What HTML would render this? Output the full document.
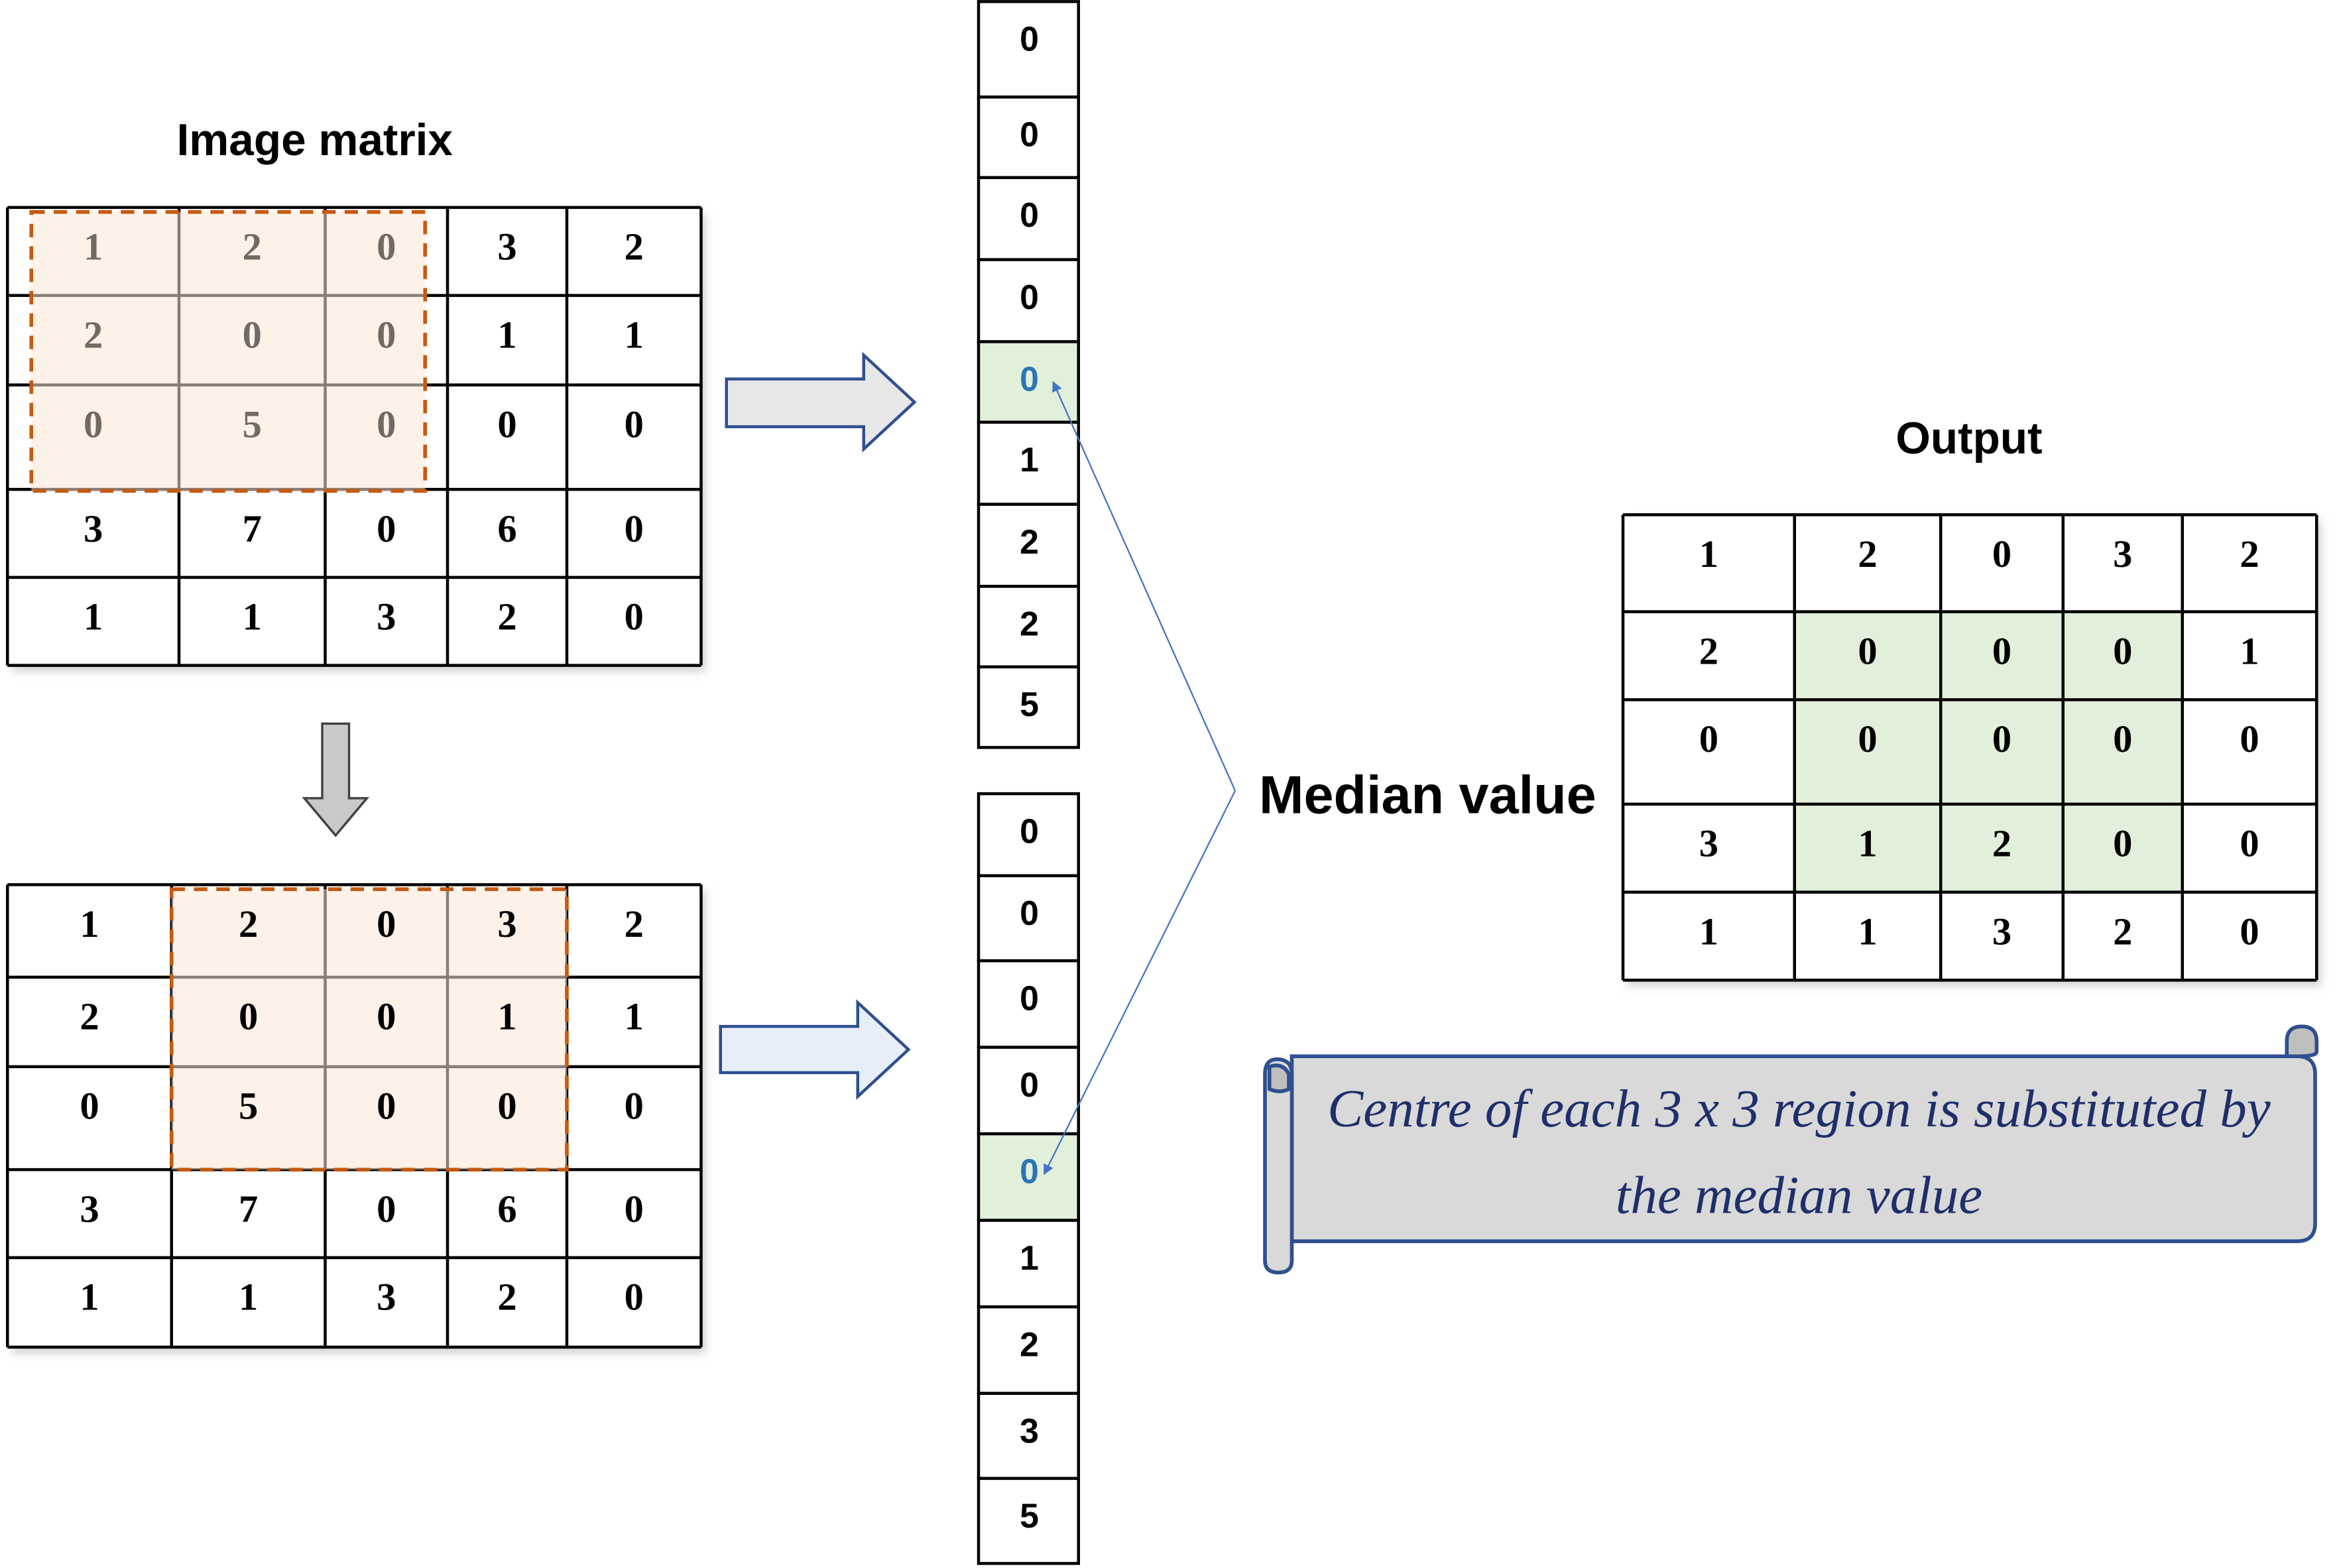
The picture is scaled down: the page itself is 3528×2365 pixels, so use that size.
<!DOCTYPE html>
<html><head><meta charset="utf-8"><style>
html,body{margin:0;padding:0;background:#fff;}
svg{display:block;}
</style></head><body>
<svg id="svg" xmlns="http://www.w3.org/2000/svg" width="3528" height="2365" viewBox="0 0 1568 1051">
<defs>
<marker id="ah" viewBox="0 0 10 10" refX="9" refY="5" markerWidth="7" markerHeight="7" orient="auto"><path d="M0,0L10,5L0,10z" fill="#4472c4"/></marker>
<filter id="sh" x="-5%" y="-5%" width="115%" height="115%"><feDropShadow dx="3" dy="4" stdDeviation="3" flood-color="#000" flood-opacity="0.18"/></filter>
</defs>
<text x="211" y="104" text-anchor="middle" font-family="Liberation Sans, sans-serif" font-weight="bold" font-size="30">Image matrix</text>
<text x="1320" y="304" text-anchor="middle" font-family="Liberation Sans, sans-serif" font-weight="bold" font-size="30">Output</text>
<text x="844" y="545" font-family="Liberation Sans, sans-serif" font-weight="bold" font-size="36">Median value</text>
<g id="grids"></g>
<path d="M216,485H234V535H246L225,560L204,535H216Z" fill="#c9c9c9" stroke="#404040" stroke-width="1.5"/>
<path d="M487,254H579V238L613,269.5L579,301V286H487Z" fill="#e7e7e7" stroke="#2f4f8f" stroke-width="2"/>
<path d="M483,688H575V672L609,703.5L575,735V719H483Z" fill="#e8eef8" stroke="#2f4f8f" stroke-width="2"/>
<line x1="828" y1="530" x2="706" y2="256" stroke="#4472c4" stroke-width="1" marker-end="url(#ah)"/>
<line x1="828" y1="530" x2="700" y2="787" stroke="#4472c4" stroke-width="1" marker-end="url(#ah)"/>
<g stroke="#2f4f8f" stroke-width="2.5" fill="#d9d9d9">
<path d="M866,708H1540Q1552,708 1552,720V820Q1552,832 1540,832H866Z"/>
<path d="M1533,708V698Q1533,688 1543,688Q1553,688 1553,698V705Q1553,708 1540,708Z" fill="#bfbfbf"/>
<path d="M856,710Q866,710 866,720V845Q866,853 857,853Q848,853 848,845V720Q848,710 856,710Z"/>
<path d="M851,715Q860,712 864,720V730Q858,733 851,730Z" fill="#bfbfbf"/>
</g>
<text x="1206" y="755" text-anchor="middle" font-family="Liberation Serif, serif" font-style="italic" font-size="36" fill="#1f2f6b">Centre of each 3 x 3 region is substituted by</text>
<text x="1206" y="813" text-anchor="middle" font-family="Liberation Serif, serif" font-style="italic" font-size="36" fill="#1f2f6b">the median value</text>
</svg>
<script>
const NS='http://www.w3.org/2000/svg';
const grid1=[[1,2,0,3,2],[2,0,0,1,1],[0,5,0,0,0],[3,7,0,6,0],[1,1,3,2,0]];
const grid2=[[1,2,0,3,2],[2,0,0,1,1],[0,5,0,0,0],[3,7,0,6,0],[1,1,3,2,0]];
const outGrid=[[1,2,0,3,2],[2,0,0,0,1],[0,0,0,0,0],[3,1,2,0,0],[1,1,3,2,0]];
const sorted1=[0,0,0,0,0,1,2,2,5];
const sorted2=[0,0,0,0,0,1,2,3,5];
const root=document.getElementById('grids');
function mk(tag){return document.createElementNS(NS,tag);}
function drawGrid(name,vals,xs,ys,win,winFill,greyText,greenWin){
  const g=mk('g');
  
  
  root.appendChild(g);
  const bg=mk('rect');
  
  
  bg.setAttribute('x',xs[0]);bg.setAttribute('y',ys[0]);
  bg.setAttribute('width',xs[xs.length-1]-xs[0]);bg.setAttribute('height',ys[ys.length-1]-ys[0]);
  bg.setAttribute('fill','#fff');bg.setAttribute('filter','url(#sh)');
  g.appendChild(bg);
  if(greenWin){
    const r=mk('rect');
    
    
    r.setAttribute('x',xs[greenWin[0]]);r.setAttribute('y',ys[greenWin[1]]);
    r.setAttribute('width',xs[greenWin[0]+3]-xs[greenWin[0]]);r.setAttribute('height',ys[greenWin[1]+3]-ys[greenWin[1]]);
    r.setAttribute('fill','#e2efda');
    g.appendChild(r);
  }
  for(let i=0;i<xs.length;i++){const l=mk('line');
    
    
    l.setAttribute('x1',xs[i]);l.setAttribute('x2',xs[i]);l.setAttribute('y1',ys[0]);l.setAttribute('y2',ys[ys.length-1]);
    l.setAttribute('stroke','#000');l.setAttribute('stroke-width','2');g.appendChild(l);}
  for(let j=0;j<ys.length;j++){const l=mk('line');
    
    
    l.setAttribute('y1',ys[j]);l.setAttribute('y2',ys[j]);l.setAttribute('x1',xs[0]);l.setAttribute('x2',xs[xs.length-1]);
    l.setAttribute('stroke','#000');l.setAttribute('stroke-width','2');g.appendChild(l);}
  if(win){
    const r=mk('rect');
    
    
    r.setAttribute('x',win[0]);r.setAttribute('y',win[1]);r.setAttribute('width',win[2]-win[0]);r.setAttribute('height',win[3]-win[1]);
    r.setAttribute('fill',winFill);r.setAttribute('fill-opacity','0.55');
    r.setAttribute('stroke','#c55a11');r.setAttribute('stroke-width','2.5');r.setAttribute('stroke-dasharray','9,6');
    g.appendChild(r);
  }
  for(let r=0;r<vals.length;r++)for(let c=0;c<vals[r].length;c++){
    const t=mk('text');
    
    
    const x=(xs[c]+xs[c+1])/2, y=(ys[r]+ys[r+1])/2;
    t.setAttribute('x',x);t.setAttribute('y',ys[r]+35);
    t.setAttribute('text-anchor','middle');
    t.setAttribute('font-family','Liberation Serif, serif');
    t.setAttribute('font-weight','bold');t.setAttribute('font-size','26');
    let inWin=greyText&&win&&x>win[0]&&x<win[2]&&y>win[1]&&y<win[3];
    t.setAttribute('fill',inWin?'#6f6a66':'#000');
    t.textContent=vals[r][c];
    g.appendChild(t);
  }
}
drawGrid('input-grid-step-1',grid1,[5,120,218,300,380,470],[139,198,258,328,387,446],[21,142,285,329],'#fbe5d6',true);
drawGrid('input-grid-step-2',grid2,[5,115,218,300,380,470],[593,655,715,784,843,903],[115,596,380,784],'#fbe5d6',false);
drawGrid('output-grid',outGrid,[1088,1203,1301,1383,1463,1553],[345,410,469,539,598,657],null,null,false,[1,1]);
function drawCol(name,vals,ys,hi){
  const g=mk('g');
  
  
  root.appendChild(g);
  for(let i=0;i<vals.length;i++){
    const r=mk('rect');
    
    
    r.setAttribute('x',656);r.setAttribute('y',ys[i]);r.setAttribute('width',67);r.setAttribute('height',ys[i+1]-ys[i]);
    r.setAttribute('fill',i===hi?'#e2efda':'#fff');r.setAttribute('stroke','#000');r.setAttribute('stroke-width','2');
    g.appendChild(r);
    const t=mk('text');
    
    
    t.setAttribute('x',690);t.setAttribute('y',ys[i]+33);
    t.setAttribute('text-anchor','middle');t.setAttribute('font-family','Liberation Sans, sans-serif');
    t.setAttribute('font-weight','bold');t.setAttribute('font-size','23');
    t.setAttribute('fill',i===hi?'#2e75b6':'#000');
    t.textContent=vals[i];
    g.appendChild(t);
  }
}
drawCol('sorted-column-1',sorted1,[1,65,119,174,229,283,338,393,447,501],4);
drawCol('sorted-column-2',sorted2,[532,587,644,702,760,818,876,934,991,1048],4);
</script>
</body></html>
